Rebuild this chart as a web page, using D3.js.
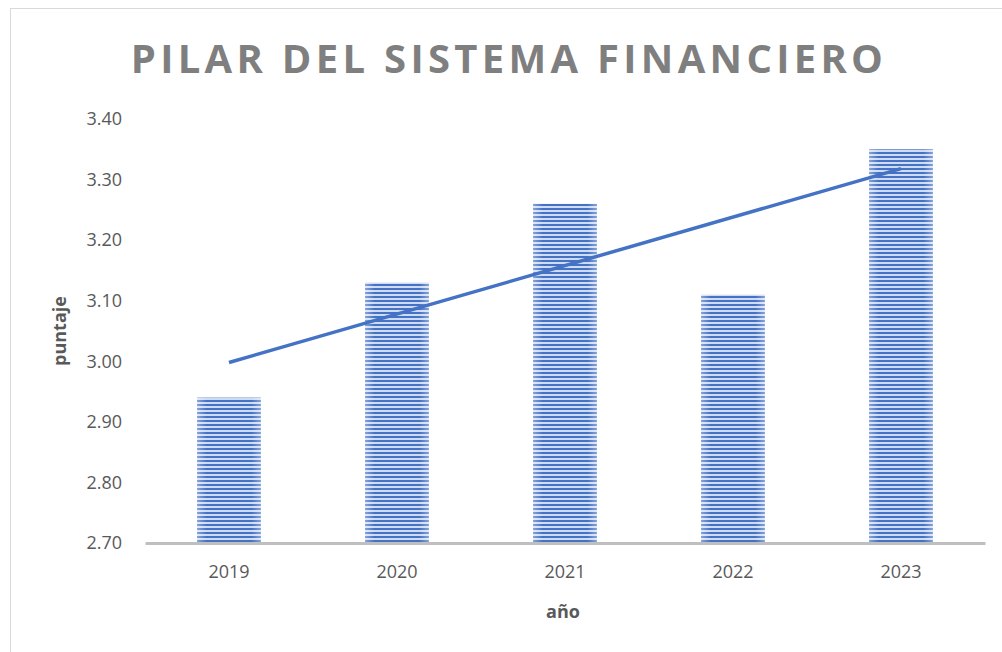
<!DOCTYPE html>
<html lang="es">
<head>
    <meta charset="UTF-8">
    <title>Pilar del sistema financiero</title>
    <script src="https://unpkg.com/d3@7.8.5/dist/d3.min.js"></script>
    <style>
        body { margin: 0; background: #fff; }
        svg { display: block; font-family: "Open Sans", sans-serif; }
    </style>
</head>
<body>
    <svg width="1002" height="652"></svg>
    <script>
        // datos
        var years = ['2019', '2020', '2021', '2022', '2023']
        var scores = [2.94, 3.13, 3.26, 3.11, 3.35]
        var yTicks = [2.70, 2.80, 2.90, 3.00, 3.10, 3.20, 3.30, 3.40]

        var svg = d3.select('svg')
        var blue = '#4472C4'

        // marco del gráfico
        svg.append('rect')
            .attr('x', 10.5).attr('y', 8.5)
            .attr('width', 1000).attr('height', 660)
            .attr('fill', 'none').attr('stroke', '#d9d9d9')

        // patrón de rayas horizontales
        var defs = svg.append('defs')
        var pat = defs.append('pattern')
            .attr('id', 'rayas')
            .attr('patternUnits', 'userSpaceOnUse')
            .attr('width', 8).attr('height', 4)
        pat.append('rect').attr('width', 8).attr('height', 4).attr('fill', '#cfdbf1')
        pat.append('rect').attr('y', 0).attr('width', 8).attr('height', 2).attr('fill', blue)

        var grad = defs.append('linearGradient').attr('id', 'brillo')
        grad.append('stop').attr('offset', '0%').attr('stop-color', '#fff').attr('stop-opacity', 0.35)
        grad.append('stop').attr('offset', '15%').attr('stop-color', '#fff').attr('stop-opacity', 0)
        grad.append('stop').attr('offset', '85%').attr('stop-color', '#fff').attr('stop-opacity', 0)
        grad.append('stop').attr('offset', '100%').attr('stop-color', '#fff').attr('stop-opacity', 0.35)

        var x = d3.scaleBand().domain(years).range([145, 985]).paddingInner(0.62).paddingOuter(0.31)
        var y = d3.scaleLinear().domain([2.70, 3.40]).range([543, 119])

        // título
        svg.append('text')
            .attr('x', 509).attr('y', 73)
            .attr('text-anchor', 'middle')
            .attr('font-size', 40)
            .attr('font-weight', 'bold')
            .attr('letter-spacing', 4.3)
            .attr('fill', '#7f7f7f')
            .text('PILAR DEL SISTEMA FINANCIERO')

        // eje y (solo etiquetas)
        var yAxis = svg.append('g')
            .attr('transform', 'translate(122,0)')
            .call(d3.axisLeft(y).tickValues(yTicks).tickFormat(d3.format('.2f')).tickSize(0).tickPadding(0))
        yAxis.select('.domain').remove()
        yAxis.selectAll('text').attr('font-size', 18).attr('fill', '#595959')
            .attr('font-family', '"Open Sans", sans-serif')

        // barras
        var bars = svg.append('g')
        bars.selectAll('rect.bar').data(scores).enter()
            .append('rect')
            .attr('class', 'bar')
            .attr('x', (v, i) => x(years[i]))
            .attr('y', v => y(v))
            .attr('width', x.bandwidth())
            .attr('height', v => y(2.70) - y(v))
            .attr('fill', 'url(#rayas)')
        bars.selectAll('rect.brillo').data(scores).enter()
            .append('rect')
            .attr('class', 'brillo')
            .attr('x', (v, i) => x(years[i]))
            .attr('y', v => y(v))
            .attr('width', x.bandwidth())
            .attr('height', v => y(2.70) - y(v))
            .attr('fill', 'url(#brillo)')

        // eje x
        var xAxis = svg.append('g')
            .attr('transform', 'translate(0,543)')
            .call(d3.axisBottom(x).tickSize(0).tickPadding(22))
        xAxis.select('.domain').attr('stroke', '#bfbfbf').attr('stroke-width', 3)
        xAxis.selectAll('text').attr('font-size', 18).attr('fill', '#595959')
            .attr('font-family', '"Open Sans", sans-serif')

        // línea de tendencia (regresión lineal)
        var idx = scores.map((v, i) => i)
        var mx = d3.mean(idx), my = d3.mean(scores)
        var slope = d3.sum(idx, i => (i - mx) * (scores[i] - my)) / d3.sum(idx, i => (i - mx) * (i - mx))
        var inter = my - slope * mx
        var trend = years.map((yr, i) => [x(yr) + x.bandwidth() / 2, y(inter + slope * i)])
        svg.append('path')
            .attr('d', d3.line()([trend[0], trend[trend.length - 1]]))
            .attr('stroke', blue)
            .attr('stroke-width', 3.5)
            .attr('fill', 'none')

        // títulos de ejes
        svg.append('text')
            .attr('transform', 'translate(66,331) rotate(-90)')
            .attr('text-anchor', 'middle')
            .attr('font-size', 18).attr('font-weight', 'bold').attr('fill', '#595959')
            .text('puntaje')
        svg.append('text')
            .attr('x', 563).attr('y', 618)
            .attr('text-anchor', 'middle')
            .attr('font-size', 18).attr('font-weight', 'bold').attr('fill', '#595959')
            .text('año')
    </script>
</body>
</html>
